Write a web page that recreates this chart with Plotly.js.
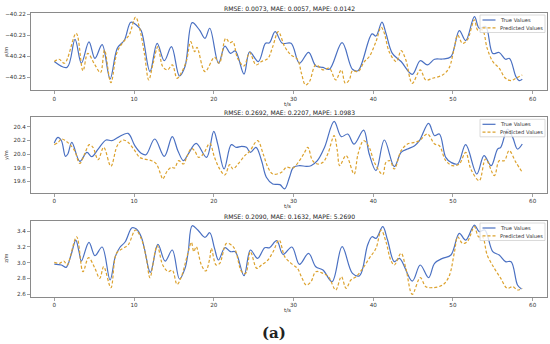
<!DOCTYPE html>
<html><head><meta charset="utf-8">
<script src="https://cdn.plot.ly/plotly-3.0.1.min.js"></script>
<style>html,body{margin:0;padding:0;background:#fff}#chart{width:550px;height:344px}</style>
</head><body><div id="chart"></div>
<script>
// ---- Panel 1 : x/m ----
const tTrueX = [0,1.6,2.6,3.4,4.35,5.1,6.0,7.0,7.9,8.8,9.6,10.3,10.9,12.0,12.9,13.8,14.7,15.7,16.4,17.3,18.2,18.9,19.5,20.6,21.4,22.1,22.7,23.8,24.5,25.6,26.5,27.0,27.7,28.6,29.7,30.75,31.9,32.8,33.7,34.5,36.1,37.4,38.1,39.85,40.35,41.1,41.6,42.4,43.5,44.9,45.9,46.8,47.7,48.7,49.75,50.8,51.6,52.7,53.3,54.1,55.0,55.8,56.6,57.1,57.9,58.3,58.7];
const xTrue = [-40.2426,-40.2454,-40.2320,-40.2434,-40.2332,-40.2411,-40.2345,-40.2509,-40.2363,-40.2323,-40.2238,-40.2251,-40.2278,-40.2474,-40.2339,-40.2422,-40.2355,-40.2495,-40.2450,-40.2240,-40.2275,-40.2315,-40.2267,-40.2434,-40.2352,-40.2387,-40.2375,-40.2486,-40.2380,-40.2426,-40.2339,-40.2336,-40.2283,-40.2339,-40.2339,-40.2434,-40.2382,-40.2447,-40.2454,-40.2463,-40.2336,-40.2463,-40.2470,-40.2294,-40.2304,-40.2238,-40.2291,-40.2387,-40.2426,-40.2487,-40.2422,-40.2442,-40.2415,-40.2414,-40.2403,-40.2278,-40.2326,-40.2211,-40.2267,-40.2259,-40.2387,-40.2383,-40.2415,-40.2411,-40.2498,-40.2517,-40.2511];
const tPredX = [0,0.6,1.3,2.75,3.6,4.2,5.1,5.8,6.3,7.1,7.9,8.8,9.4,10.2,10.7,11.3,11.85,12.4,13.0,13.6,14.2,14.8,15.4,15.9,16.6,17.1,17.6,17.9,18.9,20.1,20.7,21.5,22.0,22.4,23.0,23.8,24.5,25.3,26.0,26.8,27.4,28.1,28.9,29.7,30.5,31.0,31.5,32.0,32.8,33.7,34.5,35.3,36.0,36.5,37.0,37.4,38.1,38.9,39.5,40.35,41.0,41.4,42.0,42.9,43.5,44.1,44.9,45.9,46.6,47.45,48.7,49.5,50.2,50.6,51.2,51.8,52.7,53.1,53.7,54.3,55.0,55.8,56.6,57.3,57.9,58.7];
const xPred = [-40.2426,-40.2415,-40.2434,-40.2291,-40.2470,-40.2387,-40.2442,-40.2479,-40.2371,-40.2527,-40.2379,-40.2326,-40.2299,-40.2214,-40.2267,-40.2387,-40.2514,-40.2434,-40.2355,-40.2450,-40.2466,-40.2442,-40.2506,-40.2482,-40.2419,-40.2331,-40.2379,-40.2358,-40.2474,-40.2406,-40.2434,-40.2315,-40.2336,-40.2331,-40.2411,-40.2447,-40.2383,-40.2442,-40.2426,-40.2411,-40.2355,-40.2283,-40.2355,-40.2395,-40.2415,-40.2482,-40.2538,-40.2522,-40.2442,-40.2466,-40.2458,-40.2514,-40.2466,-40.2530,-40.2514,-40.2470,-40.2474,-40.2426,-40.2403,-40.2331,-40.2262,-40.2291,-40.2379,-40.2426,-40.2374,-40.2419,-40.2530,-40.2466,-40.2514,-40.2506,-40.2490,-40.2458,-40.2355,-40.2299,-40.2339,-40.2323,-40.2227,-40.2275,-40.2275,-40.2363,-40.2426,-40.2458,-40.2506,-40.2517,-40.2506,-40.2490];

// ---- Panel 2 : y/m ----
const tTrueY = [0,0.45,0.9,1.4,1.7,2.2,3.2,4.1,4.7,5.5,6.5,7.2,8.0,9.25,10.1,10.9,11.5,12.6,13.8,14.8,15.5,16.2,16.8,17.8,19.1,20.0,20.5,21.3,22.2,22.8,23.5,24.1,24.6,25.3,26.0,26.6,27.4,28.3,28.9,29.5,30.0,30.75,31.6,32.2,33.0,33.9,35.1,36.0,36.8,37.6,38.8,39.5,40.35,41.4,42.65,43.5,44.3,45.2,45.8,46.95,47.7,48.3,49.1,49.75,50.6,51.6,53.0,53.9,54.8,55.6,56.0,56.85,57.5,58.1,58.7];
const yTrue = [20.161,20.244,20.195,19.966,20.0,20.171,19.893,20.024,19.961,20.073,20.205,20.195,20.244,20.302,20.122,20.01,19.99,20.22,19.966,20.254,20.049,19.902,20.0,20.156,19.951,20.332,20.146,19.78,20.137,20.098,20.112,20.098,20.024,20.098,19.902,19.659,19.561,19.551,19.488,19.659,19.805,19.829,19.82,19.829,19.902,20.098,20.478,20.254,20.293,20.146,20.351,20.0,19.756,20.205,19.815,20.024,20.073,20.122,20.195,20.449,20.268,20.293,19.951,19.878,19.854,20.137,19.707,19.976,19.829,20.073,20.098,20.366,20.244,20.073,20.146];
const tPredY = [0,0.5,0.9,1.4,1.9,2.55,3.2,3.8,4.4,4.85,5.5,6.2,7.1,7.9,8.6,9.25,10.1,10.7,11.3,12.2,12.8,13.4,13.6,14.2,14.7,15.1,15.6,16.2,16.6,17.2,17.6,18.1,18.7,19.5,20.1,20.75,21.4,22.0,22.4,23.05,23.9,24.5,25.5,26.2,26.8,27.4,28.5,29.1,29.9,30.75,31.4,31.8,32.4,33.0,33.7,34.3,35.1,35.5,35.8,36.6,37.6,38.1,38.8,39.5,40.15,41.2,41.6,42.1,42.65,43.5,44.3,45.2,45.8,46.8,47.7,48.3,49.1,49.95,50.8,51.6,52.25,53.3,54.1,55.2,55.8,56.45,57.05,57.9,58.7];
const yPred = [20.137,20.171,20.22,20.195,20.146,20.049,19.863,20.0,20.137,20.098,19.917,20.098,19.82,20.122,20.205,20.171,20.049,19.951,19.927,19.902,19.854,19.683,19.634,19.756,19.805,19.795,19.902,19.854,19.951,20.083,20.049,19.951,20.0,20.156,19.951,19.78,19.693,19.844,19.78,19.854,19.976,20.039,20.195,20.0,19.805,19.707,19.732,19.805,19.795,19.902,20.024,20.098,19.902,19.854,19.878,20.0,20.268,20.049,19.829,19.976,19.707,20.0,20.195,20.098,19.878,19.698,19.878,19.902,19.78,20.049,20.146,20.171,20.195,20.293,20.146,20.122,19.902,19.829,19.854,20.024,19.78,19.61,19.927,19.683,19.902,19.902,20.049,19.878,19.732];

// ---- Panel 3 : z/m ----
const tTrueZ = [0,0.9,1.5,2.1,2.7,3.1,3.4,4.35,5.1,6.0,7.0,7.65,8.2,8.9,9.75,10.3,10.9,11.3,12.05,13.0,13.9,14.8,15.7,16.4,16.8,17.3,18.0,18.9,19.5,20.1,20.6,21.4,22.1,22.7,23.8,24.6,25.5,26.4,27.0,27.9,28.7,29.8,30.75,31.9,32.8,33.7,34.85,36.1,37.4,38.3,39.3,39.85,40.35,41.2,41.8,42.65,43.3,44.9,45.9,46.95,47.7,48.7,49.75,50.8,51.6,52.7,53.3,54.0,55.0,55.8,56.6,57.3,58.1,58.6];
const zTrue = [2.983,2.971,2.941,3.097,3.286,3.139,3.021,3.257,3.088,3.198,2.781,3.076,3.189,3.265,3.442,3.425,3.328,3.181,2.878,3.232,3.021,3.16,2.794,2.928,3.139,3.467,3.413,3.32,3.379,3.181,3.034,3.189,3.139,3.139,2.836,3.16,3.055,3.189,3.189,3.278,3.105,3.198,2.979,3.118,2.949,2.907,2.76,3.202,2.865,2.836,3.223,3.328,3.307,3.455,3.286,3.013,3.055,2.768,2.971,2.811,2.992,3.055,3.097,3.371,3.286,3.476,3.392,3.413,3.139,3.097,3.013,3.013,2.718,2.667];
const tPredZ = [0,0.67,1.2,1.6,2.8,3.6,4.3,5.1,5.7,6.2,7.1,7.8,8.6,9.25,10.2,10.9,11.55,12.0,12.9,13.6,14.3,14.8,15.4,15.9,16.7,17.2,17.5,17.8,18.45,19.0,19.5,19.7,20.3,20.75,21.6,22.2,22.7,23.5,24.0,24.6,25.4,26.0,26.8,27.45,28.2,28.9,29.7,30.5,31.0,31.6,32.2,32.8,33.7,34.4,35.3,36.0,36.6,37.2,37.85,38.7,39.5,40.35,41.0,41.6,42.2,42.65,43.5,44.1,44.9,45.9,46.6,47.45,48.7,49.5,50.2,50.6,51.2,51.8,52.7,53.2,53.7,54.3,55.2,56.0,56.8,57.5,58.1,58.7];
const zPred = [3.004,2.992,3.021,2.971,3.328,2.886,3.063,2.928,2.802,2.949,2.684,3.118,3.181,3.223,3.413,3.307,3.055,2.811,3.215,2.971,2.886,2.907,2.726,2.811,3.097,3.257,3.139,3.202,2.971,2.895,3.055,3.181,2.971,2.992,3.244,3.223,3.16,2.886,2.865,3.139,2.928,2.971,3.034,3.139,3.286,3.076,2.992,2.928,2.823,2.718,2.76,2.886,2.865,2.823,2.655,2.823,2.676,2.781,2.823,2.928,3.055,3.181,3.413,3.265,3.034,2.971,3.118,2.928,2.6,2.811,2.697,2.684,2.718,2.823,3.139,3.328,3.244,3.265,3.455,3.328,3.328,3.097,2.928,2.802,2.676,2.697,2.655,2.676];

const seriesNames = ['True Values', 'Predicted Values'];
const panelTitles = ['RMSE: 0.0073, MAE: 0.0057, MAPE: 0.0142',
                     'RMSE: 0.2692, MAE: 0.2207, MAPE: 1.0983',
                     'RMSE: 0.2090, MAE: 0.1632, MAPE: 5.2690'];
const yLabels = ['x/m', 'y/m', 'z/m'];
const xLabel = 't/s';
const xTicks = [0, 10, 20, 30, 40, 50, 60];
const yTicks1 = [-40.25, -40.24, -40.23, -40.22];
const yTicks2 = [19.6, 19.8, 20.0, 20.2, 20.4];
const yTicks3 = [2.6, 2.8, 3.0, 3.2, 3.4];

const BLUE = '#4a70c2', ORANGE = '#dca22e';
const FONT = 'DejaVu Sans, sans-serif';
const DASH = '3px,2px';

const panels = [
  {tt: tTrueX, vt: xTrue, tp: tPredX, vp: xPred},
  {tt: tTrueY, vt: yTrue, tp: tPredY, vp: yPred},
  {tt: tTrueZ, vt: zTrue, tp: tPredZ, vp: zPred}
];
const traces = [];
panels.forEach((p, i) => {
  const xa = i === 0 ? 'x' : 'x' + (i + 1);
  const ya = i === 0 ? 'y' : 'y' + (i + 1);
  traces.push({x: p.tt, y: p.vt, xaxis: xa, yaxis: ya, type: 'scatter', mode: 'lines',
    name: seriesNames[0], showlegend: false,
    line: {color: BLUE, width: 1.2, shape: 'spline', smoothing: 1}});
  traces.push({x: p.tp, y: p.vp, xaxis: xa, yaxis: ya, type: 'scatter', mode: 'lines',
    name: seriesNames[1], showlegend: false,
    line: {color: ORANGE, width: 1.2, dash: DASH, shape: 'spline', smoothing: 1}});
});

const W = 550, H = 344;
const px = v => v / W, py = v => 1 - v / H;
const panelPx = [[13, 90], [117.3, 192.7], [221, 296.7]];
const yRanges = [[-40.2562, -40.2194], [19.433, 20.538], [2.57, 3.527]];
const yTickSets = [yTicks1, yTicks2, yTicks3];
const yDecimals = [2, 1, 1];

const axisCommon = {
  showline: true, mirror: true, linecolor: '#8a8a8a', linewidth: 1,
  ticks: 'outside', ticklen: 3, tickwidth: 0.8, tickcolor: '#8a8a8a',
  showgrid: false, zeroline: false,
  tickfont: {family: FONT, size: 5.6, color: '#333'}
};

const layout = {
  width: W, height: H, margin: {l: 0, r: 0, t: 0, b: 0},
  paper_bgcolor: '#fff', plot_bgcolor: '#fff', showlegend: false,
  font: {family: FONT, color: '#333'},
  annotations: [], shapes: []
};

panelPx.forEach((pp, i) => {
  const sfx = i === 0 ? '' : String(i + 1);
  const T = pp[0];
  layout['xaxis' + sfx] = Object.assign({}, axisCommon, {
    domain: [px(31), px(547)], range: [-2.92, 61.8], anchor: 'y' + sfx,
    tickmode: 'array', tickvals: xTicks, ticktext: xTicks.map(String)
  });
  layout['yaxis' + sfx] = Object.assign({}, axisCommon, {
    domain: [py(pp[1]), py(pp[0])], range: yRanges[i], anchor: 'x' + sfx,
    tickmode: 'array', tickvals: yTickSets[i],
    ticktext: yTickSets[i].map(v => v.toFixed(yDecimals[i]).replace('-', '\u2212'))
  });
  // legend box (drawn as shapes + text)
  layout.shapes.push({type: 'rect', xref: 'paper', yref: 'paper',
    x0: px(480), x1: px(545), y0: py(T + 19.5), y1: py(T + 2),
    fillcolor: 'rgba(255,255,255,0.8)', line: {color: '#d0d0d0', width: 0.8}, layer: 'above'});
  layout.shapes.push({type: 'line', xref: 'paper', yref: 'paper',
    x0: px(482.5), x1: px(495.5), y0: py(T + 7), y1: py(T + 7),
    line: {color: BLUE, width: 1.2}, layer: 'above'});
  layout.shapes.push({type: 'line', xref: 'paper', yref: 'paper',
    x0: px(482.5), x1: px(495.5), y0: py(T + 14.8), y1: py(T + 14.8),
    line: {color: ORANGE, width: 1.2, dash: DASH}, layer: 'above'});
  layout.annotations.push({text: seriesNames[0], xref: 'paper', yref: 'paper',
    x: px(497.5), y: py(T + 7), xanchor: 'left', yanchor: 'middle', showarrow: false,
    font: {family: FONT, size: 5.2, color: '#333'}});
  layout.annotations.push({text: seriesNames[1], xref: 'paper', yref: 'paper',
    x: px(497.5), y: py(T + 14.8), xanchor: 'left', yanchor: 'middle', showarrow: false,
    font: {family: FONT, size: 5.2, color: '#333'}});
  layout.annotations.push({
    text: panelTitles[i], xref: 'paper', yref: 'paper', x: px(289), y: py(T - 5),
    xanchor: 'center', yanchor: 'middle', showarrow: false,
    font: {family: FONT, size: 6.1, color: '#222'}
  });
  layout.annotations.push({
    text: xLabel, xref: 'paper', yref: 'paper', x: px(287), y: py(pp[1] + 13.5),
    xanchor: 'center', yanchor: 'middle', showarrow: false,
    font: {family: FONT, size: 5.5, color: '#333'}
  });
  layout.annotations.push({
    text: yLabels[i], xref: 'paper', yref: 'paper', x: px(6), y: py((pp[0] + pp[1]) / 2),
    xanchor: 'center', yanchor: 'middle', showarrow: false, textangle: -90,
    font: {family: FONT, size: 5, color: '#333'}
  });
});
layout.annotations.push({
  text: '<b>(a)</b>', xref: 'paper', yref: 'paper', x: px(274), y: py(333),
  xanchor: 'center', yanchor: 'middle', showarrow: false,
  font: {family: 'DejaVu Serif, Liberation Serif, serif', size: 15, color: '#222'}
});

Plotly.newPlot('chart', traces, layout, {staticPlot: true, displayModeBar: false});
</script></body></html>
